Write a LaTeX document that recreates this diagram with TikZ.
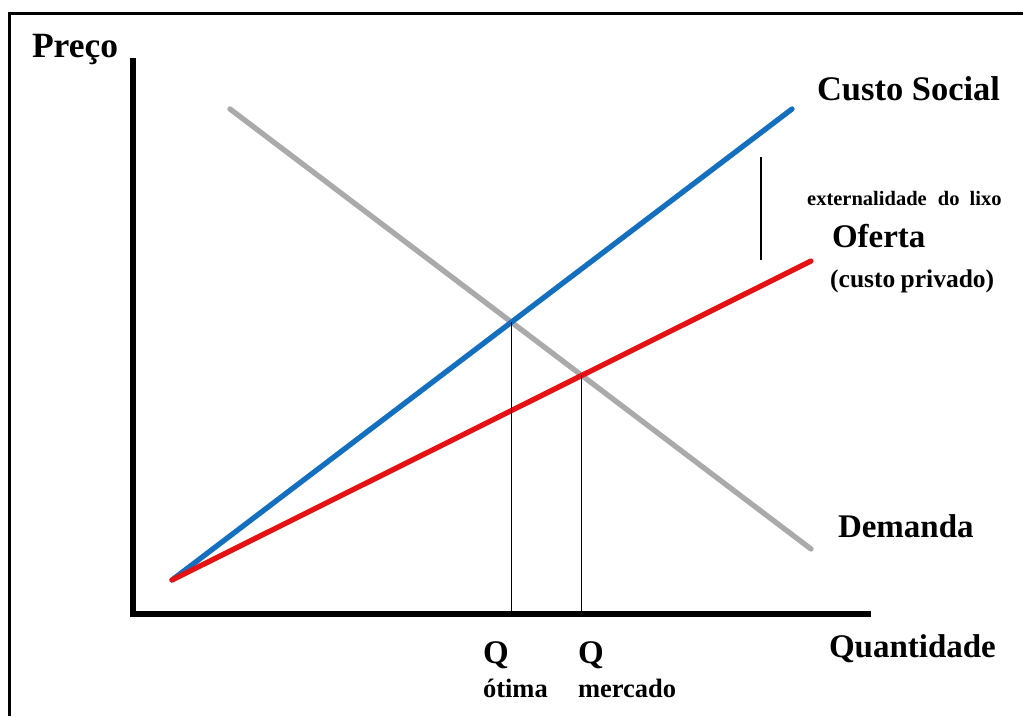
\documentclass[tikz,border=0pt]{standalone}
\usepackage{fontspec}
\setmainfont{Liberation Serif}
\definecolor{demgray}{RGB}{170,170,170}
\definecolor{socblue}{RGB}{20,112,190}
\definecolor{offred}{RGB}{228,18,18}
\tikzset{
  lbl/.style={inner sep=0pt, outer sep=0pt, anchor=base west, font=\bfseries\fontsize{33}{36}\selectfont},
  biglbl/.style={lbl, font=\bfseries\fontsize{34.5}{38}\selectfont},
  sublbl/.style={inner sep=0pt, outer sep=0pt, anchor=base west, font=\bfseries\fontsize{26.5}{28}\selectfont},
  axisline/.style={line width=5.5pt, black},
  curve/.style={line width=5.3pt, line cap=round},
  guide/.style={line width=1.3pt, black},
  frameline/.style={line width=3pt, black}
}
\begin{document}
\begin{tikzpicture}[x=1pt,y=-1pt]
\useasboundingbox (0,0) rectangle (1023,716);
\fill[white] (0,0) rectangle (1023,716);
% frame
\coordinate (fTL) at (9.5,13);
\coordinate (fTR) at (1023,13);
\coordinate (fBL) at (9.5,716);
\draw[frameline] (fTR) -- (fTL) -- (fBL);
% axes
\coordinate (yTop) at (133,58);
\coordinate (origin) at (133,614);
\coordinate (xStart) at (130.3,614);
\coordinate (xEnd) at (871,614);
\draw[axisline] (yTop) -- (origin);
\draw[axisline] (xStart) -- (xEnd);
% curves
\coordinate (dA) at (230,109);
\coordinate (dB) at (811,549);
\coordinate (s0) at (172,580);
\coordinate (csEnd) at (792,109);
\coordinate (ofEnd) at (811,261);
\draw[curve, demgray] (dA) -- (dB);
\draw[curve, socblue] (s0) -- (csEnd);
\draw[curve, offred] (s0) -- (ofEnd);
% intersections
\coordinate (eqOpt) at (intersection of dA--dB and s0--csEnd);
\coordinate (eqMkt) at (intersection of dA--dB and s0--ofEnd);
\coordinate (qOpt) at (eqOpt |- origin);
\coordinate (qMkt) at (eqMkt |- origin);
\draw[guide] (eqOpt) -- (qOpt);
\draw[guide] (eqMkt) -- (qMkt);
% externality marker
\coordinate (exTop) at (761,157);
\coordinate (exBot) at (761,260);
\draw[guide] (exTop) -- (exBot);
% labels
\node[lbl, font=\bfseries\fontsize{35.5}{38}\selectfont] (preco) at (32,57) {Preço};
\node[biglbl] (custosocial) at (817,100) {Custo Social};
\node[inner sep=0pt, anchor=base west, font=\bfseries\fontsize{20.5}{22}\selectfont] (ext) at (807,205) {externalidade\hspace{6pt} do\hspace{5pt} lixo};
\node[lbl] (oferta) at (832,247) {Oferta};
\node[inner sep=0pt, anchor=base west, font=\bfseries\fontsize{25.5}{27}\selectfont] (privado) at (830,287) {(custo\hspace{-1pt} privado)};
\node[lbl] (demanda) at (838,537) {Demanda};
\node[lbl] (quant) at (829,657) {Quantidade};
\node[lbl] (q1) at (483,663) {Q};
\node[lbl] (q2) at (578,663) {Q};
\node[sublbl] (otima) at (483,697) {ótima};
\node[sublbl] (mercado) at (578,697) {mercado};
\end{tikzpicture}
\end{document}
